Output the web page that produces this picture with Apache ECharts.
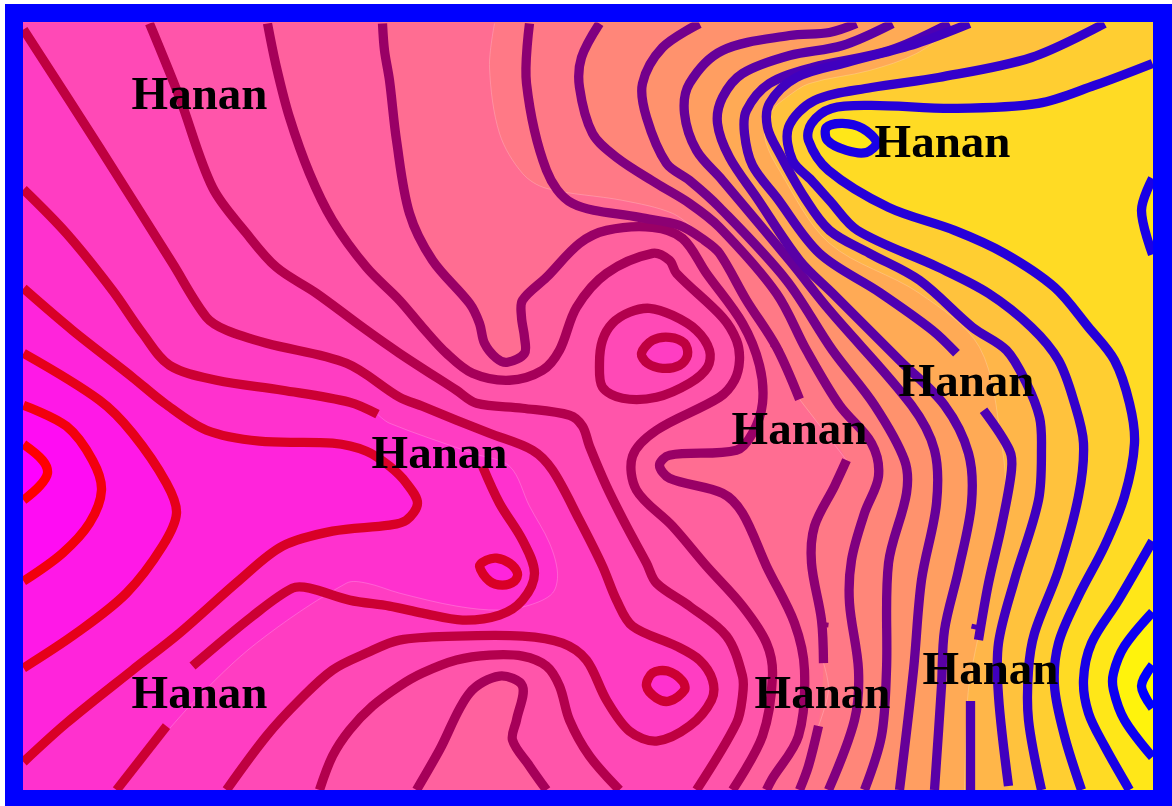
<!DOCTYPE html>
<html><head><meta charset="utf-8"><title>Hanan</title>
<style>html,body{margin:0;padding:0;background:#fff;width:1172px;height:806px;overflow:hidden}
#c{position:absolute;left:5px;top:4px;width:1167px;height:802px}</style>
<script src="https://cdn.jsdelivr.net/npm/echarts@6/dist/echarts.min.js"></script></head><body><div id="c"></div>
<script>
// Contour segments: [x, y] in the map's own axis units.
const L0=[[24,444],[43,460],[48,473],[40,486],[24,500]];
const L1=[[24,405],[67,426],[93,460],[102,490],[90,523],[63,553],[24,581]];
const L2=[[24,353],[100,400],[133,433],[167,483],[177,513],[163,546],[127,593],[77,633],[24,668]];
const L3=[[24,288],[73,330],[133,377],[165,403],[207,430],[260,441],[333,443],[367,451],[390,466],[407,483],[418,503],[407,520],[390,525],[333,531],[283,546],[240,580],[180,633],[133,670],[67,723],[24,762]];
const L3loop=[[480,566],[487,560],[497,558],[510,563],[518,573],[515,581],[503,585],[490,581]];
const L4a=[[24,189],[67,233],[113,290],[143,333],[170,365],[217,380],[283,390],[350,402],[378,414]];
const L4b=[[483,466],[500,503],[523,540],[535,573],[523,600],[500,615],[463,620],[423,613],[390,606],[350,600],[310,588],[293,588],[253,616],[193,666]];
const L4c=[[167,726],[117,790]];
const L4loop=[[647,686],[653,673],[668,671],[683,681],[685,690],[670,701],[657,698]];
const L5=[[24,29],[100,147],[173,263],[207,317],[227,330],[267,343],[347,363],[400,397],[423,406],[457,420],[490,433],[533,450],[553,470],[580,520],[603,566],[617,600],[633,626],[677,646],[700,660],[713,680],[712,700],[690,726],[657,741],[630,731],[607,700],[587,660],[563,643],[523,636],[457,636],[400,640],[367,653],[333,670],[300,700],[267,736],[227,790]];
const L5loop=[[642,353],[653,340],[670,337],[685,343],[688,355],[680,365],[663,368],[648,363]];
const L6upper=[[150,23],[180,97],[213,187],[247,233],[277,267],[317,293],[363,327],[400,353],[457,390],[477,403],[523,408],[570,415],[583,426],[590,446],[607,486],[627,526],[647,563],[657,583],[690,606],[727,636],[743,676],[743,696],[737,723],[697,790]];
const L6lower=[[320,790],[333,756],[350,730],[373,706],[400,686],[423,673],[457,660],[490,655],[523,656],[547,666],[560,686],[570,720],[590,756],[620,790]];
const L6ring=[[600,363],[603,340],[613,323],[630,312],[650,308],[673,315],[697,330],[710,350],[708,367],[690,383],[657,397],[623,398],[603,387]];
const L7upper=[[268,23],[277,67],[290,117],[310,173],[333,220],[367,267],[400,300],[423,327],[447,353],[473,373],[510,380],[543,370],[560,350],[577,307],[607,273],[653,253],[670,260],[677,273],[723,317],[737,340],[740,360],[735,380],[720,397],[657,430],[633,456],[637,490],[673,526],[707,566],[743,606],[767,643],[773,676],[763,736],[733,790]];
const L7lower=[[417,790],[440,750],[470,693],[500,676],[523,686],[517,720],[513,740],[530,766],[547,790]];
const L8=[[383,23],[385,50],[390,80],[397,140],[410,213],[433,260],[470,303],[480,323],[485,343],[497,358],[508,362],[525,353],[525,337],[522,317],[523,300],[547,277],[580,243],[607,230],[653,227],[683,238],[707,273],[743,323],[760,365],[763,403],[753,433],[737,450],[670,455],[660,465],[670,478],[723,493],[743,513],[767,566],[795,623],[805,670],[799,736],[772,780],[767,790]];
const L9a=[[530,23],[527,83],[547,170],[573,203],[640,217],[680,225],[705,240],[720,253],[747,300],[777,347],[800,399]];
const L9b=[[847,460],[835,486],[815,526],[812,563],[822,620],[824,663]];
const L9c=[[819,726],[809,766],[800,790]];
const L10=[[600,23],[582,57],[580,87],[593,133],[617,157],[657,183],[690,203],[720,227],[777,293],[807,350],[840,405],[872,443],[879,476],[865,513],[852,560],[850,603],[859,670],[855,720],[829,790]];
const L11=[[700,23],[663,47],[643,83],[647,117],[667,163],[690,180],[720,207],[787,280],[833,350],[875,405],[905,460],[907,493],[889,563],[887,670],[882,736],[865,790]];
const L12=[[857,23],[830,32],[790,35],[723,50],[690,83],[685,113],[697,150],[723,180],[790,260],[830,310],[912,405],[935,450],[937,503],[922,580],[914,670],[900,790]];
const L13=[[893,23],[843,45],[790,55],[743,73],[723,97],[718,123],[730,157],[757,197],[800,260],[833,293],[900,360],[945,405],[969,453],[972,503],[959,570],[945,630],[942,686],[935,790]];
const L14a=[[950,23],[890,50],[813,67],[770,83],[747,110],[745,133],[753,165],[777,197],[820,253],[880,292],[933,330],[957,353]];
const L14b=[[984,410],[1010,450],[1012,470],[1002,526],[989,583],[979,640]];
const L14c=[[971,701],[971,790]];
const L15=[[970,23],[917,43],[847,62],[797,77],[770,103],[768,127],[780,153],[805,197],[830,230],[870,253],[920,280],[973,327],[1007,350],[1027,383],[1040,417],[1042,446],[1039,500],[1015,580],[999,643],[999,696],[1009,786]];
const L16=[[1105,23],[1032,57],[939,77],[872,87],[815,100],[789,127],[793,160],[812,180],[830,200],[858,230],[939,267],[989,293],[1032,327],[1059,360],[1075,403],[1084,443],[1079,496],[1059,570],[1035,633],[1029,670],[1029,720],[1042,790]];
const L17=[[1153,63],[1095,85],[1039,103],[955,108],[872,105],[832,108],[812,123],[809,140],[829,170],[889,207],[955,230],[1005,253],[1055,287],[1089,327],[1115,360],[1130,403],[1135,443],[1125,496],[1105,546],[1079,596],[1059,643],[1055,686],[1065,736],[1082,790]];
const L18=[[1153,541],[1119,600],[1092,643],[1084,680],[1089,713],[1105,746],[1130,790]];
const L18arc=[[1153,178],[1142,210],[1153,254]];
const L18loop=[[827,127],[843,123],[863,128],[877,142],[867,152],[847,150],[828,140]];
const L19=[[1153,612],[1125,646],[1114,673],[1114,690],[1125,720],[1153,757]];
const L20=[[1153,665],[1142,686],[1153,708]];
// Thin fill edges that part from the labelled contours.
const hair4=[[378,414],[390,423],[473,453],[510,466],[530,506],[550,543],[558,573],[553,593],[530,605],[500,610],[457,606],[400,593],[367,583],[347,583],[257,643],[193,703],[147,756]];
const hair9=[[495,23],[490,67],[500,133],[523,173],[547,188],[623,200],[673,213],[700,233]];
const hair9b=[[800,399],[847,460]];
const hair9c=[[824,663],[829,690],[819,726]];
const hair14=[[960,23],[917,53],[870,70],[810,83],[787,97],[773,110],[765,135],[780,170],[830,243],[920,293],[980,347],[1002,443],[1005,503],[972,670],[968,700],[965,790]];
// Small stubs beside the label gaps.
const stubA=[[772,344],[782,351]], stubB=[[821,624],[829,625]], stubC=[[972,626],[981,628]];
// Labels
const labelText='Hanan';
const labelPts=[[200,96],[943,144],[967,384],[800,432],[440,456],[200,696],[823,696],[991,672]];
const LINE_W=9.3, LEVELS=20, BANDS=21, SMOOTH=0.33;
const lineColor=l=>{const t=l/LEVELS;return `rgb(${Math.round(255*(1-t))},0,${Math.round(255*t)})`;};
const bandColor=k=>{const g=k/BANDS;return `rgb(255,${Math.round(255*g)},${Math.round(255*(1-g))})`;};
// Extend a curve's ends beyond the frame so the fill reaches it.
const ext=(a,b)=>{const d=Math.hypot(a[0]-b[0],a[1]-b[1])||1;return [a[0]+(a[0]-b[0])/d*40,a[1]+(a[1]-b[1])/d*40];};
const extended=c=>[ext(c[0],c[1]),...c,ext(c[c.length-1],c[c.length-2])];
const rev=c=>c.slice().reverse();
const lowSide=(...parts)=>{const p=parts.flatMap(extended);const s=p[0],e=p[p.length-1];
  return [[s[0],-100],...p,[e[0],870],[-100,870],[-100,-100]];};
const fills=[];
const add=(pts,k,smooth=SMOOTH)=>fills.push({pts,k,smooth});
add([[-100,-100],[1300,-100],[1300,900],[-100,900]],21,0);
add(lowSide(L20),20);
add(lowSide(L19),19);
add(lowSide(L18),18); add(L18loop,19); add([[1190,160],...L18arc,[1190,270]],19);
add(lowSide(L17),17);
add(lowSide(L16),16);
add(lowSide(L15),15);
add(lowSide(hair14),14);
add(lowSide(L13),13);
add(lowSide(L12),12);
add(lowSide(L11),11);
add(lowSide(L10),10);
add(lowSide([...hair9,...L9a.slice(7),...L9b,...L9c]),9);
add(lowSide(L8),8);
add(lowSide(L7upper,rev(L7lower)),7);
add(lowSide(L6upper,rev(L6lower)),6); add(L6ring,6);
add(lowSide(L5),5); add(L5loop,5);
add(lowSide([...L4a,...hair4.slice(1),...L4c]),4); add(L4loop,4);
add(lowSide(L3),3); add(L3loop,3);
add(lowSide(L2),2);
add(lowSide(L1),1);
add(lowSide(L0),0);

const contours=[[L0,0],[L1,1],[L2,2],[L3,3],[L4a,4],[L4b,4],[L4c,4],[L5,5],
 [L6upper,6],[L6lower,6],[L7upper,7],[L7lower,7],[L8,8],[L9a,9],[L9b,9],[L9c,9],[L10,10],[L11,11],[L12,12],[L13,13],
 [L14a,14],[L14b,14],[L14c,14],[L15,15],[L16,16],[L17,17],[L18,18],[L18arc,18],[L19,19],[L20,20]];
const loops=[[L3loop,3],[L4loop,4],[L5loop,5],[L6ring,6],[L18loop,18]];
const stubs=[[stubA,9],[stubB,9],[stubC,14]];
const hairs=[hair4,hair9,hair9b,hair9c,hair14];
const strokes=[
  ...hairs.map(h=>({pts:h,color:'rgba(255,255,255,0.35)',w:0.6,smooth:SMOOTH})),
  ...contours.map(([c,l])=>({pts:c,color:lineColor(l),w:LINE_W,smooth:SMOOTH})),
  ...loops.map(([c,l])=>({pts:c,color:lineColor(l),w:LINE_W,smooth:SMOOTH,closed:true})),
  ...stubs.map(([c,l])=>({pts:c,color:lineColor(l),w:5,smooth:0}))];

const chart=echarts.init(document.getElementById('c'),null,{renderer:'canvas'});
const series=[
 {type:'custom',coordinateSystem:'cartesian2d',clip:true,silent:true,z:1,animation:false,
  data:fills.map((f,i)=>[i]),encode:{x:-1,y:-1},
  renderItem:(p,api)=>{const f=fills[p.dataIndex];
    return {type:'polygon',shape:{points:f.pts.map(q=>api.coord(q)),smooth:f.smooth},style:{fill:bandColor(f.k),stroke:null}};}},
 {type:'custom',coordinateSystem:'cartesian2d',clip:true,silent:true,z:3,animation:false,
  data:strokes.map((s,i)=>[i]),encode:{x:-1,y:-1},
  renderItem:(p,api)=>{const s=strokes[p.dataIndex];
    return {type:s.closed?'polygon':'polyline',shape:{points:s.pts.map(q=>api.coord(q)),smooth:s.smooth},style:{fill:null,stroke:s.color,lineWidth:s.w,lineCap:'butt',lineJoin:'round'}};}},
 {type:'scatter',data:labelPts,symbolSize:0,silent:true,z:5,animation:false,itemStyle:{opacity:1},
  label:{show:true,position:'inside',formatter:labelText,color:'#000',opacity:1,fontFamily:'"Liberation Serif",serif',fontWeight:'bold',fontSize:47,align:'center',verticalAlign:'middle'}}
];
chart.setOption({animation:false,
  grid:{show:true,left:18.5,top:18.5,width:1129,height:767.5,backgroundColor:'transparent',borderColor:'#0000ff',borderWidth:60},
  xAxis:{type:'value',min:24,max:1153,show:false},
  yAxis:{type:'value',min:22,max:790,inverse:true,show:false},
  tooltip:{show:false},legend:{show:false},series});
</script></body></html>
